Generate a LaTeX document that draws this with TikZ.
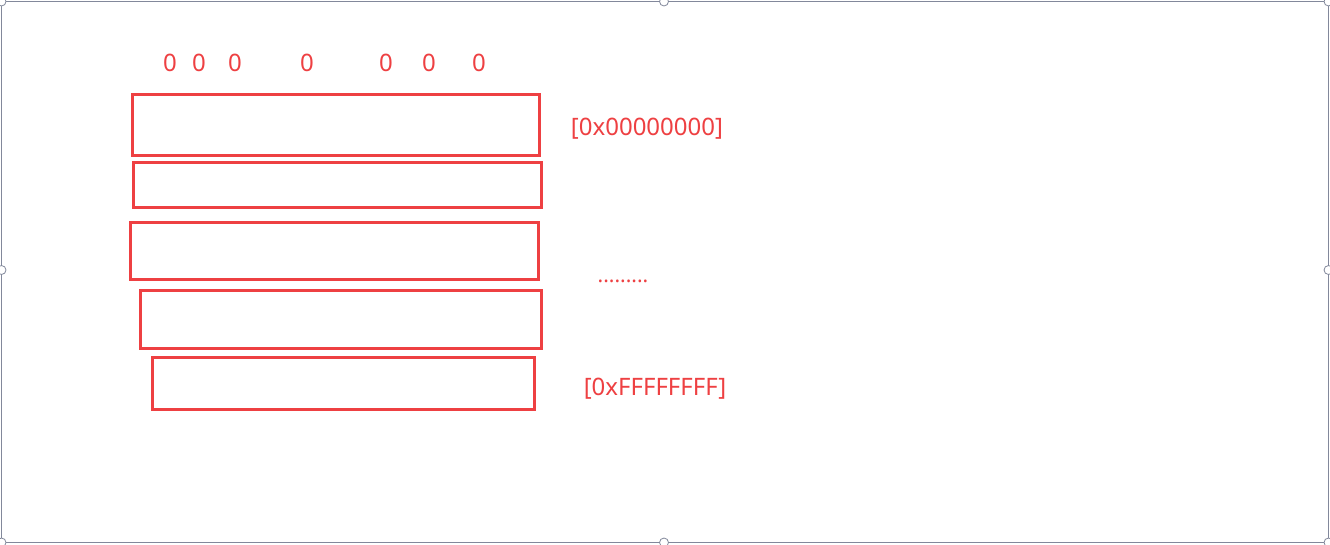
\documentclass[tikz,border=0pt]{standalone}
\usepackage{fontspec}
\setmainfont{Noto Sans}
\begin{document}
\begin{tikzpicture}[x=1pt,y=-1pt,
  cell/.style={draw=boxred,line width=3pt},
  lbl/.style={text=boxred,font=\fontsize{24}{28}\selectfont,inner sep=0pt,anchor=center},
  frm/.style={draw=frameg,line width=1pt},
  hdl/.style={draw=frameg,fill=white,line width=0.8pt}]
\definecolor{boxred}{RGB}{238,64,66}
\definecolor{frameg}{RGB}{130,136,155}
\useasboundingbox (0,0) rectangle (1330,544);
\fill[white] (0,0) rectangle (1330,544);
% frame with handles
\draw[frm] (1.5,1.5) rectangle (1328.5,542.5);
\foreach \p/\n in {{(1.5,1.5)}/h1,{(664,1.5)}/h2,{(1328.5,1.5)}/h3,{(1.5,270)}/h4,{(1328.5,270)}/h5,{(1.5,542.5)}/h6,{(664,542.5)}/h7,{(1328.5,542.5)}/h8}
  \draw[hdl] \p circle (4.5);
% boxes
\draw[cell] (132,94) rectangle (539,155);
\draw[cell] (133,162) rectangle (541,207);
\draw[cell] (130,222) rectangle (538,279);
\draw[cell] (140,290) rectangle (541,348);
\draw[cell] (152,357) rectangle (534,409);
% top zeros
\foreach \x/\n in {170/z1,199/z2,235/z3,307/z4,386/z5,429/z6,479/z7}
  \node[lbl] (\n) at (\x,63) {0};
\node[lbl] (a0) at (647,129) {[0x00000000]};
\node[lbl,font=\fontsize{21}{24}\selectfont] (dots) at (623,281) {.........};
\node[lbl] (aF) at (655,389) {[0xFFFFFFFF]};
\end{tikzpicture}
\end{document}
